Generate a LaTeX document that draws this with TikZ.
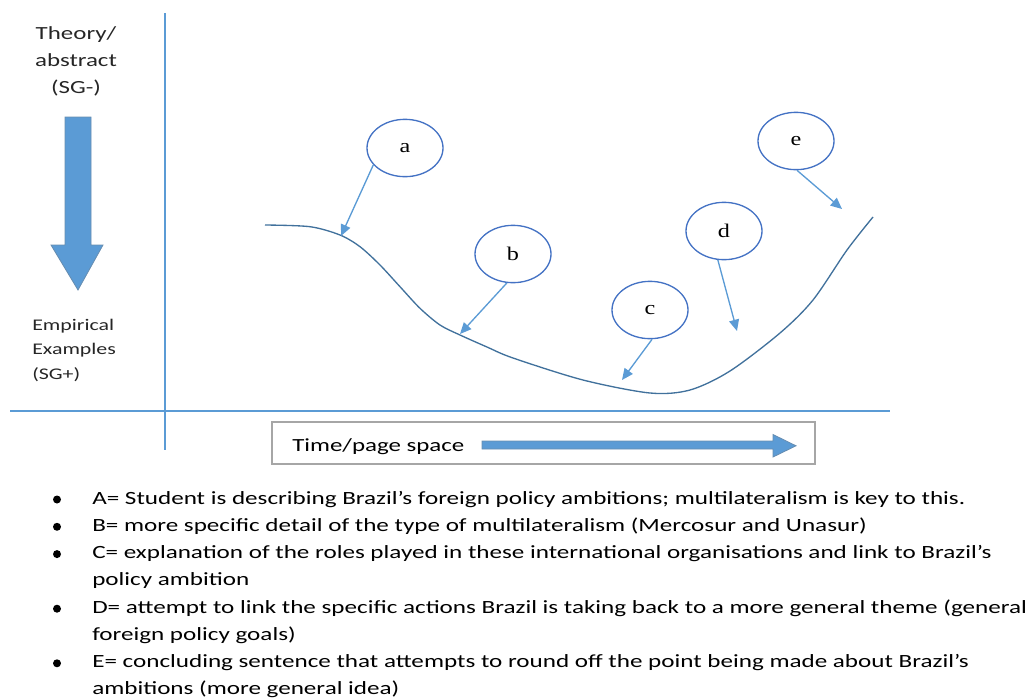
\documentclass[tikz,border=0pt]{standalone}
\usepackage{fontspec}
\setmainfont{Carlito}
\newfontfamily\calw[FakeStretch=1.345]{Carlito}
\newfontfamily\timw[FakeStretch=1.25]{Liberation Serif}
\usetikzlibrary{arrows.meta,shapes.geometric}
\definecolor{axisblue}{HTML}{5B9BD5}
\definecolor{ellblue}{HTML}{4472C4}
\definecolor{curveblue}{HTML}{41719C}
\definecolor{boxgray}{HTML}{A6A6A6}
\definecolor{txt}{HTML}{262626}
\tikzset{
  axisline/.style={draw=axisblue, line width=1.1pt},
  bubble/.style={ellipse, draw=ellblue, line width=1pt, fill=white, minimum width=57pt, minimum height=43pt, inner sep=0pt, font=\timw\fontsize{14.5pt}{16pt}\selectfont},
  ptr/.style={draw=axisblue, line width=1pt, -{Triangle[length=8.5pt,width=7.5pt]}},
  curveline/.style={draw=curveblue, line width=1pt},
  bigarrow/.style={fill=axisblue, draw=curveblue!80, line width=0.6pt},
  lbl/.style={inner sep=0pt, text=txt, font=\calw\fontsize{13.9pt}{16pt}\selectfont},
  lbls/.style={inner sep=0pt, text=txt, font=\calw\fontsize{12.2pt}{14pt}\selectfont},
  btxt/.style={inner sep=0pt, anchor=base west, text=black, font=\calw\fontsize{14pt}{16pt}\selectfont},
  bul/.style={circle, fill=black, inner sep=0pt, minimum size=6pt},
  tbox/.style={draw=boxgray, line width=1pt, inner sep=0pt},
}
\begin{document}
\begin{tikzpicture}[x=0.75pt, y=-0.75pt]
\useasboundingbox (0,0) rectangle (1029,697);
% axes
\coordinate (vtop) at (165,13);
\coordinate (vbot) at (165,450);
\coordinate (hl) at (10,411);
\coordinate (hr) at (890,411);
\draw[axisline] (vtop) -- (vbot);
\draw[axisline] (hl) -- (hr);
% left labels
\node[lbl, anchor=base] (th1) at (76,39.5) {Theory/};
\node[lbl, anchor=base] (th2) at (76,66.5) {abstract};
\node[lbl, anchor=base] (th3) at (76,93.5) {(SG-)};
\draw[bigarrow] (65,117) -- (91,117) -- (91,245) -- (103,245) -- (78,290) -- (51,245) -- (65,245) -- cycle;
\node[lbls, anchor=base west] (em1) at (32,330) {Empirical};
\node[lbls, anchor=base west] (em2) at (32,354.5) {Examples};
\node[lbls, anchor=base west] (em3) at (32,379) {(SG+)};
% curve
\draw[curveline] plot[smooth, tension=0.5] coordinates {(265,225) (310,226.7) (340,235) (360,246.7) (380,265) (400,286.7) (420,308.3) (440,325) (460,335) (487,347) (513,358) (583,380) (650,393) (690,390) (730,371) (780,333) (813,300) (847,250) (873,217)};
% bubbles
\node[bubble] (a) at (405,148) {a};
\node[bubble] (b) at (513,254) {b};
\node[bubble] (c) at (650,310) {c};
\node[bubble] (d) at (724,231) {d};
\node[bubble] (e) at (796,141) {e};
\coordinate (ta) at (341,236);
\coordinate (tb) at (460,334);
\coordinate (tc) at (622,380);
\coordinate (td) at (737,331);
\coordinate (te) at (842,209);
\draw[ptr] (a.208) -- (ta);
\draw[ptr] (b.258) -- (tb);
\draw[ptr] (c.274) -- (tc);
\draw[ptr] (d.258) -- (td);
\draw[ptr] (e.272) -- (te);
% time box
\node[tbox, minimum width=407.25pt, minimum height=31.5pt] (tbx) at (543.5,443) {};
\node[lbl, anchor=base west, text=black] (tt) at (292,451.5) {Time/page space};
\draw[bigarrow] (482,441) -- (773,441) -- (773,434.5) -- (796,445.8) -- (773,457) -- (773,449) -- (482,449) -- cycle;
% bullets
\node[bul] (b1) at (57,499.5) {};
\node[btxt] (l1) at (92,504) {A= Student is describing Brazil’s foreign policy ambitions; multilateralism is key to this.};
\node[bul] (b2) at (57,526.8) {};
\node[btxt] (l2) at (92,531.3) {B= more specific detail of the type of multilateralism (Mercosur and Unasur)};
\node[bul] (b3) at (57,554.1) {};
\node[btxt] (l3) at (92,558.6) {C= explanation of the roles played in these international organisations and link to Brazil’s};
\node[btxt] (l4) at (92,585.9) {policy ambition};
\node[bul] (b4) at (57,608.7) {};
\node[btxt] (l5) at (92,613.2) {D= attempt to link the specific actions Brazil is taking back to a more general theme (general};
\node[btxt] (l6) at (92,640.5) {foreign policy goals)};
\node[bul] (b5) at (57,663.3) {};
\node[btxt] (l7) at (92,667.8) {E= concluding sentence that attempts to round off the point being made about Brazil’s};
\node[btxt] (l8) at (92,694) {ambitions (more general idea)};
\end{tikzpicture}
\end{document}
